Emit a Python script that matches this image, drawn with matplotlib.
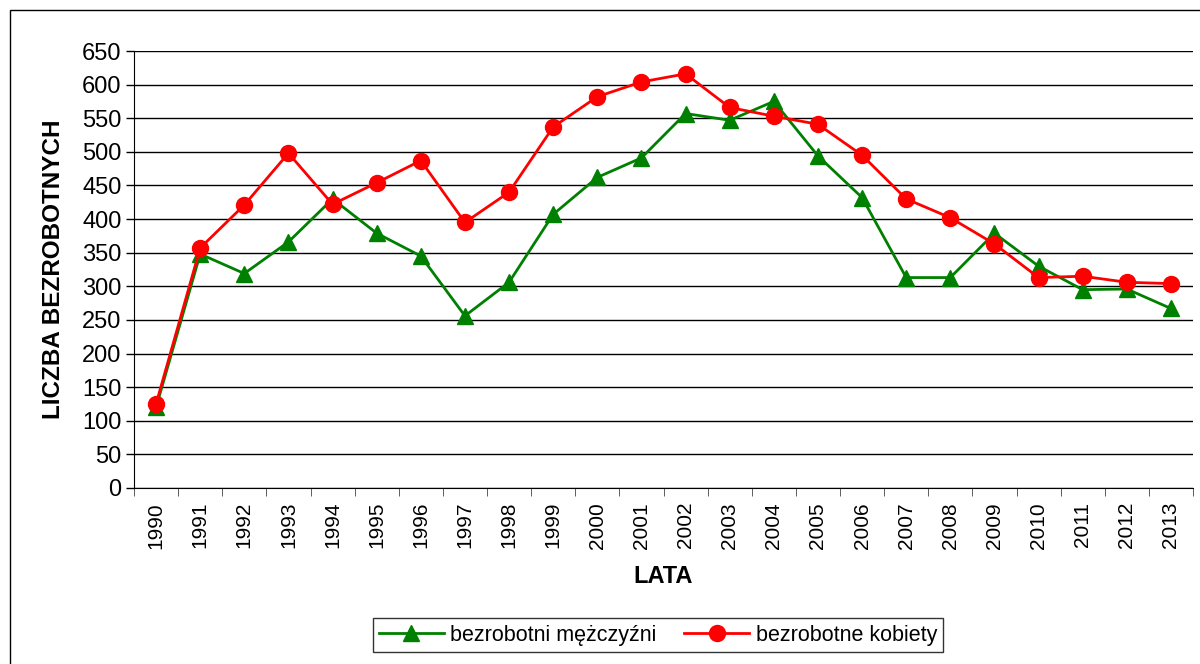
import matplotlib.pyplot as plt
from matplotlib.patches import Rectangle

plt.rcParams['font.family'] = ['Liberation Sans', 'DejaVu Sans']

years = [str(y) for y in range(1990, 2014)]
men = [120, 348, 319, 366, 430, 379, 345, 256, 306, 407, 462, 491, 557, 547, 575, 494, 432, 313, 313, 379, 330, 295, 296, 267]
women = [125, 357, 421, 498, 422, 454, 487, 395, 440, 537, 582, 604, 616, 566, 553, 541, 495, 430, 402, 363, 313, 315, 306, 304]
yticks = list(range(0, 651, 50))

fig = plt.figure(figsize=(12, 6.64), dpi=100)
ax = fig.add_axes([134/1200, 1 - 488/664, (1193 - 134)/1200, (488 - 51)/664])

x = list(range(len(years)))
ax.plot(x, men, color='#008000', lw=2, marker='^', ms=11, label='bezrobotni mężczyźni', zorder=3)
ax.plot(x, women, color='#ff0000', lw=2, marker='o', ms=11.5, label='bezrobotne kobiety', zorder=4)

ax.set_xlim(-0.5, len(years) - 0.5)
ax.set_ylim(0, 650)
ax.set_yticks(yticks)
ax.set_yticklabels([str(v) for v in yticks], fontsize=17)
ax.set_xticks(x)
ax.set_xticklabels(years, rotation=90, fontsize=15)
ax.tick_params(axis='x', length=0, pad=10)
# category separator ticks
ax.set_xticks([i - 0.5 for i in range(len(years) + 1)], minor=True)
ax.tick_params(axis='x', which='minor', length=6, color='#444444')
ax.tick_params(axis='y', length=6, width=1, pad=3)

ax.grid(axis='y', color='black', lw=1)
ax.set_axisbelow(True)
for s in ['top', 'right']:
    ax.spines[s].set_visible(False)

ax.set_xlabel('LATA', fontsize=17, fontweight='bold', labelpad=12)
ax.set_ylabel('LICZBA BEZROBOTNYCH', fontsize=17.5, fontweight='bold', labelpad=12)

leg = fig.legend(loc='center', bbox_to_anchor=(658/1200, 1 - 635/664), ncol=2, fontsize=15.5,
                 frameon=True, fancybox=False, edgecolor='black', handlelength=3.0,
                 columnspacing=1.3, handletextpad=0.3, borderpad=0.3)
leg.get_frame().set_linewidth(1)

fig.patches.append(Rectangle((10/1200, -0.05), 1.2, 1 - 10/664 + 0.05, transform=fig.transFigure,
                             fill=False, edgecolor='black', lw=1))

fig.savefig('out.png', dpi=100)
